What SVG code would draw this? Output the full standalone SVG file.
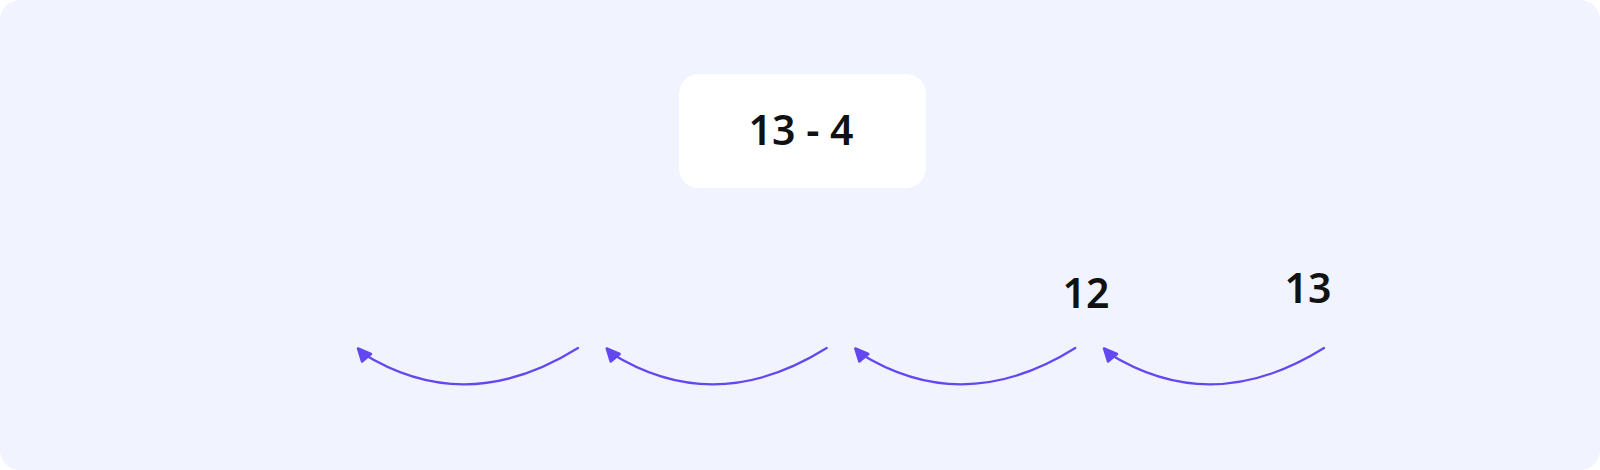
<svg xmlns="http://www.w3.org/2000/svg" width="1600" height="470" viewBox="0 0 1600 470">
  <style>
    .num { font-family: "Noto Sans", "Liberation Sans", sans-serif; font-size: 41px; font-weight: 600; fill: #111111; text-anchor: middle; }
    .arc { fill: none; stroke: #6347f0; stroke-width: 2.2; stroke-linecap: round; }
    .head { fill: #6347f0; stroke: #6347f0; stroke-width: 2.5; stroke-linejoin: round; }
  </style>
  <defs>
    <g id="jump">
      <path class="arc" d="M578,348 Q466,418 362,353"/>
      <path class="head" d="M358,348.5 L362,361.5 L371,354 Z"/>
    </g>
  </defs>
  <rect x="0" y="0" width="1600" height="470" rx="20" fill="#f1f4fe"/>
  <g id="expression">
    <rect x="679" y="74" width="247" height="114" rx="20" fill="#ffffff"/>
    <text class="num" x="801" y="145">13 - 4</text>
  </g>
  <g id="label-12">
    <text class="num" x="1086" y="308">12</text>
  </g>
  <g id="label-13">
    <text class="num" x="1308" y="303">13</text>
  </g>
  <g id="connectors">
    <use href="#jump"/>
    <use href="#jump" transform="translate(248.7,0)"/>
    <use href="#jump" transform="translate(497.3,0)"/>
    <use href="#jump" transform="translate(746,0)"/>
  </g>
</svg>
